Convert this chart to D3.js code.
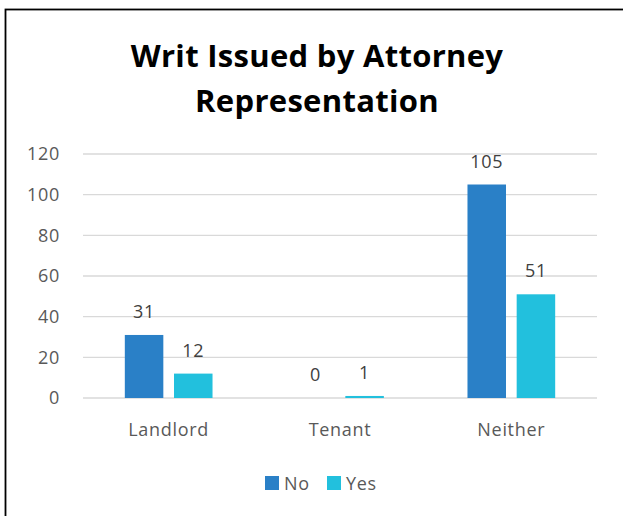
<!DOCTYPE html>
<html>
<head>
<meta charset="utf-8">
<script src="https://cdn.jsdelivr.net/npm/d3@7"></script>
<style>
  html, body { margin: 0; padding: 0; background: #fff; }
  svg { display: block; }
</style>
</head>
<body>
<svg id="chart" width="623" height="516"></svg>
<script>
// Writ issued counts by attorney representation
const categories = ["Landlord", "Tenant", "Neither"];
const seriesNames = ["No", "Yes"];
const noValues = [31, 0, 105];
const yesValues = [12, 1, 51];
const yTicks = [0, 20, 40, 60, 80, 100, 120];
const colors = ["#2A80C7", "#22C0DD"];

const svg = d3.select("#chart");
const W = 623, H = 516;
const font = "'Open Sans', 'Noto Sans', sans-serif";
const labelSize = 18;
const spacing = 0.7;

// outer frame
svg.append("rect")
  .attr("x", 5.5).attr("y", 9.5)
  .attr("width", W + 10).attr("height", H + 10)
  .attr("fill", "#fff").attr("stroke", "#000").attr("stroke-width", 1.8);

// title
const title = svg.append("text")
  .attr("text-anchor", "middle")
  .attr("font-family", font)
  .attr("font-weight", "bold")
  .attr("font-size", 31)
  .attr("letter-spacing", 0.3)
  .attr("fill", "#000");
title.append("tspan").attr("x", 317).attr("y", 67).text("Writ Issued by Attorney");
title.append("tspan").attr("x", 317).attr("y", 112).text("Representation");

const margin = { left: 83, right: 597, top: 154, bottom: 398 };

const x = d3.scaleBand().domain(categories)
  .range([margin.left, margin.right]).paddingInner(0).paddingOuter(0);
const inner = d3.scaleBand().domain(seriesNames)
  .range([0, x.bandwidth()]).paddingInner(0.217).paddingOuter(0.85);
const y = d3.scaleLinear().domain([0, 120]).range([margin.bottom, margin.top]);

// gridlines
svg.append("g").selectAll("line").data(yTicks).join("line")
  .attr("x1", margin.left).attr("x2", margin.right)
  .attr("y1", d => y(d)).attr("y2", d => y(d))
  .attr("stroke", "#d9d9d9").attr("stroke-width", 1.3);

// y axis labels
const yAxis = d3.axisLeft(y).tickValues(yTicks).tickSize(0).tickPadding(0);
const gy = svg.append("g").attr("transform", "translate(60,0)").call(yAxis);
gy.select(".domain").remove();
gy.selectAll("text")
  .attr("font-family", font).attr("font-size", labelSize)
  .attr("letter-spacing", spacing).attr("fill", "#595959");

// x axis labels
const xAxis = d3.axisBottom(x).tickSize(0).tickPadding(0);
const gx = svg.append("g").attr("transform", `translate(0,${margin.bottom})`).call(xAxis);
gx.select(".domain").remove();
gx.selectAll("text")
  .attr("y", 38).attr("dy", null)
  .attr("font-family", font).attr("font-size", labelSize)
  .attr("letter-spacing", spacing).attr("fill", "#595959");

// bars
const rows = categories.map((c, i) => ({ cat: c, vals: [noValues[i], yesValues[i]] }));
const groups = svg.append("g").selectAll("g").data(rows).join("g")
  .attr("transform", d => `translate(${x(d.cat)},0)`);

groups.selectAll("rect").data(d => d.vals.map((v, j) => ({ s: seriesNames[j], v, j })))
  .join("rect")
  .attr("x", d => inner(d.s))
  .attr("width", inner.bandwidth())
  .attr("y", d => y(d.v))
  .attr("height", d => y(0) - y(d.v))
  .attr("fill", d => colors[d.j]);

// value labels
groups.selectAll("text").data(d => d.vals.map((v, j) => ({ s: seriesNames[j], v, j })))
  .join("text")
  .attr("x", d => inner(d.s) + inner.bandwidth() / 2)
  .attr("y", d => y(d.v) - 17)
  .attr("text-anchor", "middle")
  .attr("font-family", font).attr("font-size", labelSize)
  .attr("letter-spacing", spacing).attr("fill", "#404040")
  .text(d => d.v);

// legend
const legend = svg.append("g").attr("transform", "translate(265,476)");
const items = [{ name: "No", x: 0 }, { name: "Yes", x: 62 }];
items.forEach((it, i) => {
  legend.append("rect").attr("x", it.x).attr("y", 0)
    .attr("width", 14).attr("height", 14).attr("fill", colors[i]);
  legend.append("text").attr("x", it.x + 19).attr("y", 13.5)
    .attr("font-family", font).attr("font-size", labelSize)
    .attr("letter-spacing", spacing).attr("fill", "#595959")
    .text(it.name);
});
</script>
</body>
</html>
